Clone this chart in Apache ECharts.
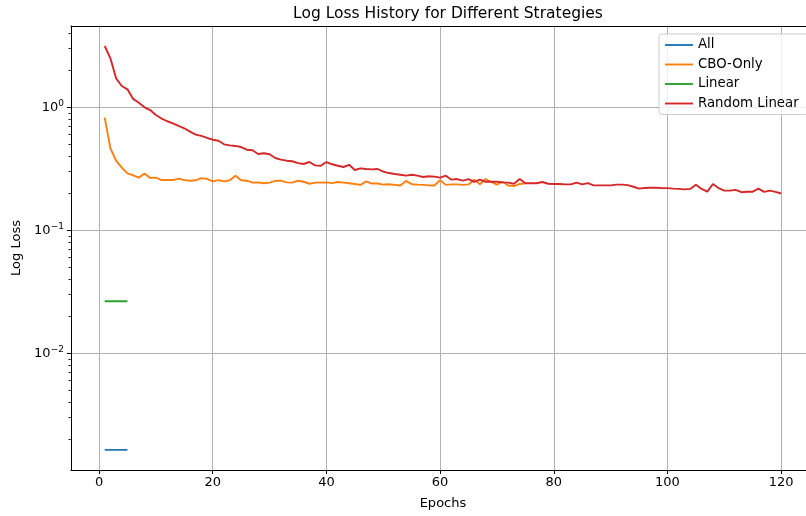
<!DOCTYPE html>
<html>
<head>
<meta charset="utf-8">
<script src="https://cdn.jsdelivr.net/npm/echarts@6/dist/echarts.min.js"></script>
<style>html,body{margin:0;padding:0;background:#fff;overflow:hidden;width:806px;height:516px}#c{width:816px;height:516px}</style>
</head>
<body>
<div id="c"></div>
<script>
const seriesNames = ['All', 'CBO-Only', 'Linear', 'Random Linear'];
const allLoss = [0.00164, 0.00164, 0.00164, 0.00164, 0.00164];
const linearLoss = [0.0265, 0.0265, 0.0265, 0.0265, 0.0265];
const cboLoss = [
  0.824,0.464,0.368,0.323,0.29,0.28,0.268,0.29,0.266,0.268,
  0.256,0.256,0.256,0.263,0.256,0.253,0.255,0.265,0.262,0.25,
  0.256,0.25,0.255,0.278,0.255,0.253,0.244,0.245,0.241,0.244,
  0.252,0.253,0.245,0.244,0.253,0.248,0.239,0.244,0.244,0.245,
  0.242,0.247,0.244,0.241,0.238,0.234,0.25,0.24,0.24,0.235,
  0.237,0.234,0.231,0.252,0.237,0.235,0.234,0.232,0.231,0.255,
  0.234,0.236,0.236,0.234,0.236,0.258,0.237,0.261,0.247,0.235,
  0.248,0.231,0.229,0.238,0.241
];
const randomLinearLoss = [
  3.15,2.50,1.72,1.49,1.40,1.17,1.09,1.00,0.95,0.865,
  0.81,0.77,0.74,0.705,0.675,0.634,0.60,0.585,0.563,0.545,
  0.535,0.50,0.49,0.485,0.475,0.452,0.447,0.417,0.423,0.415,
  0.387,0.375,0.368,0.364,0.352,0.346,0.359,0.337,0.335,0.359,
  0.344,0.335,0.327,0.341,0.309,0.319,0.315,0.313,0.315,0.300,
  0.292,0.287,0.283,0.278,0.283,0.278,0.271,0.275,0.273,0.268,
  0.278,0.258,0.261,0.253,0.261,0.248,0.258,0.248,0.248,0.248,
  0.245,0.244,0.239,0.261,0.241,0.242,0.241,0.247,0.239,0.238,
  0.238,0.236,0.236,0.244,0.236,0.242,0.232,0.232,0.232,0.232,
  0.235,0.235,0.233,0.226,0.218,0.221,0.222,0.222,0.220,0.220,
  0.218,0.217,0.215,0.217,0.235,0.217,0.206,0.238,0.220,0.210,
  0.210,0.213,0.204,0.206,0.206,0.218,0.205,0.210,0.205,0.199
];
const xTicks = [0, 20, 40, 60, 80, 100, 120];
const yTicks = [0.01, 0.1, 1];
const yMinorTicks = [0.002,0.003,0.004,0.005,0.006,0.007,0.008,0.009,
  0.02,0.03,0.04,0.05,0.06,0.07,0.08,0.09,
  0.2,0.3,0.4,0.5,0.6,0.7,0.8,0.9, 2,3,4];
const colors = ['#1f77b4', '#ff7f0e', '#2ca02c', '#d62728'];

const X_MIN = -4.95, X_MAX = 125.95, Y_MIN = 0.001125, Y_MAX = 4.58;
const FONT = 'DejaVu Sans';
const toPairs = arr => arr.map((v, i) => [i + 1, v]);

const chart = echarts.init(document.getElementById('c'), null, {renderer: 'canvas'});
function expLabel(v) {
  const e = Math.round(Math.log10(v));
  const s = e < 0 ? '\u2212' + (-e) : String(e);
  return '{b|10}{s|' + s + '}';
}
const opt = {
  animation: false,
  color: colors,
  textStyle: {fontFamily: FONT},
  title: {
    text: 'Log Loss History for Different Strategies',
    left: 443, top: 1, textAlign: 'center',
    textStyle: {fontFamily: FONT, fontSize: 15.5, fontWeight: 'normal', color: '#000'}
  },
  legend: {
    orient: 'vertical', left: 659, top: 34,
    padding: [4, 10, 4, 6], itemGap: 5.5, itemWidth: 28, itemHeight: 1.9, itemTextGap: 16,
    icon: 'rect',
    backgroundColor: 'rgba(255,255,255,0.8)', borderColor: '#cccccc', borderWidth: 1, borderRadius: 3,
    selectedMode: false,
    textStyle: {fontFamily: FONT, fontSize: 13.3, color: '#000', lineHeight: 14},
    data: seriesNames
  },
  grid: {left: 70.9, top: 26, right: 1, bottom: 46, containLabel: false},
  xAxis: [{
    type: 'value', min: X_MIN, max: X_MAX,
    name: 'Epochs', nameLocation: 'middle', nameGap: 27,
    nameTextStyle: {fontFamily: FONT, fontSize: 13, color: '#000'},
    axisLine: {onZero: false, lineStyle: {color: '#000', width: 1}},
    axisTick: {customValues: xTicks, length: 4, lineStyle: {color: '#000', width: 1}},
    axisLabel: {customValues: xTicks, fontFamily: FONT, fontSize: 13, color: '#000', margin: 6},
    splitLine: {show: true, lineStyle: {color: '#b0b0b0', width: 1}}
  }, {
    type: 'value', min: X_MIN, max: X_MAX, position: 'top',
    axisLine: {show: true, onZero: false, lineStyle: {color: '#000', width: 1}},
    axisTick: {show: false}, axisLabel: {show: false}, splitLine: {show: false}
  }],
  yAxis: [{
    type: 'log', logBase: 10, min: Y_MIN, max: Y_MAX,
    name: 'Log Loss', nameLocation: 'middle', nameGap: 46, nameRotate: 90,
    nameTextStyle: {fontFamily: FONT, fontSize: 13, color: '#000'},
    axisLine: {show: true, onZero: false, lineStyle: {color: '#000', width: 1}},
    axisTick: {show: true, customValues: yTicks, length: 4, lineStyle: {color: '#000', width: 1}},
    axisLabel: {
      customValues: yTicks, margin: 7, color: '#000',
      formatter: expLabel,
      rich: {
        b: {fontFamily: FONT, fontSize: 13, color: '#000'},
        s: {fontFamily: FONT, fontSize: 9, color: '#000', padding: [0, 0, 8, 0]}
      }
    },
    splitLine: {show: true, lineStyle: {color: '#b0b0b0', width: 1}}
  }, {
    type: 'log', logBase: 10, min: Y_MIN, max: Y_MAX, position: 'left', offset: 0,
    axisLine: {show: false, onZero: false},
    axisTick: {show: true, customValues: yMinorTicks, length: 2.5, lineStyle: {color: '#000', width: 0.8}},
    axisLabel: {show: false}, splitLine: {show: false}
  }],
  series: [
    {name: seriesNames[0], type: 'line', data: toPairs(allLoss), symbol: 'none', lineStyle: {width: 1.9}, z: 3},
    {name: seriesNames[1], type: 'line', data: toPairs(cboLoss), symbol: 'none', lineStyle: {width: 1.9}, z: 4},
    {name: seriesNames[2], type: 'line', data: toPairs(linearLoss), symbol: 'none', lineStyle: {width: 1.9}, z: 5},
    {name: seriesNames[3], type: 'line', data: toPairs(randomLinearLoss), symbol: 'none', lineStyle: {width: 1.9}, z: 6}
  ]
};
chart.setOption(opt);
</script>
</body>
</html>
